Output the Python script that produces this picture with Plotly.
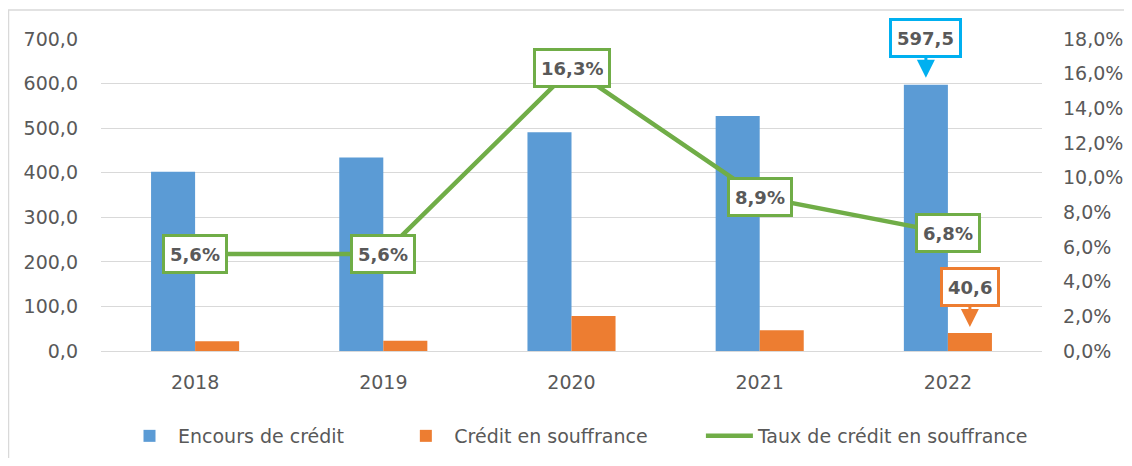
import plotly.graph_objects as go

years = ["2018", "2019", "2020", "2021", "2022"]
encours = [402.0, 434.0, 491.0, 527.0, 597.5]
souffrance = [21.8, 23.0, 78.5, 46.4, 40.6]
taux = [0.056, 0.056, 0.163, 0.089, 0.068]
taux_labels = ["5,6%", "5,6%", "16,3%", "8,9%", "6,8%"]
legend_names = ["Encours de crédit", "Crédit en souffrance", "Taux de crédit en souffrance"]

BLUE = "#5B9BD5"
ORANGE = "#ED7D31"
GREEN = "#70AD47"
CYAN = "#00B0F0"
GREY = "#595959"
FONT = "DejaVu Sans"
PAD = "\u00a0" * 8

fig = go.Figure()
fig.add_trace(go.Bar(x=years, y=encours, name=legend_names[0] + PAD, marker_color=BLUE,
                     marker_line_width=0))
fig.add_trace(go.Bar(x=years, y=souffrance, name=legend_names[1] + PAD, marker_color=ORANGE,
                     marker_line_width=0))
fig.add_trace(go.Scatter(x=years, y=taux, name=legend_names[2], yaxis="y2",
                         mode="lines", line=dict(color=GREEN, width=4.5)))

annotations = []
for i, (v, lab) in enumerate(zip(taux, taux_labels)):
    annotations.append(dict(x=i, y=v, xref="x", yref="y2", text="<b>" + lab + "</b>",
                            showarrow=False, bgcolor="white", bordercolor=GREEN, borderwidth=3,
                            borderpad=5, height=24, font=dict(family=FONT, size=18, color=GREY)))

last = len(years) - 1
annotations.append(dict(x=last, y=encours[-1], xref="x", yref="y", xshift=-22,
                        text="<b>597,5</b>", showarrow=True, arrowhead=2, arrowsize=1.2,
                        arrowwidth=3, arrowcolor=CYAN, ax=0, ay=-47, standoff=7,
                        bgcolor="white", bordercolor=CYAN, borderwidth=3, borderpad=5,
                        height=24, font=dict(family=FONT, size=18, color=GREY)))
annotations.append(dict(x=last, y=souffrance[-1], xref="x", yref="y", xshift=22,
                        text="<b>40,6</b>", showarrow=True, arrowhead=2, arrowsize=1.2,
                        arrowwidth=3, arrowcolor=ORANGE, ax=0, ay=-46, standoff=6,
                        bgcolor="white", bordercolor=ORANGE, borderwidth=3, borderpad=5,
                        height=24, font=dict(family=FONT, size=18, color=GREY)))

# the page body adds an 8px offset; size and margins compensate for it
W, H = 1116, 450
fig.update_layout(
    width=W, height=H,
    margin=dict(l=93, r=82, t=31, b=107, autoexpand=False),
    paper_bgcolor="white", plot_bgcolor="white",
    separators=", ",
    barmode="group", bargap=0.532, bargroupgap=0,
    font=dict(family=FONT, size=19, color=GREY),
    xaxis=dict(type="category", range=[-0.5, 4.5], showgrid=False, showline=False, ticks="",
               ticklabelstandoff=18, tickfont=dict(size=19, color=GREY)),
    yaxis=dict(range=[0, 700], dtick=100, tickformat=".1f", showgrid=True,
               gridcolor="#D9D9D9", gridwidth=1.3, zeroline=True, zerolinecolor="#D9D9D9",
               zerolinewidth=1.3, ticks="", ticklabelstandoff=22,
               tickfont=dict(size=19, color=GREY)),
    yaxis2=dict(range=[0, 0.18], dtick=0.02, tickformat=".1%", overlaying="y", side="right",
                showgrid=False, zeroline=False, ticks="", ticklabelstandoff=20,
                tickfont=dict(size=19, color=GREY)),
    legend=dict(orientation="h", xref="container", yref="container",
                x=113 / W, xanchor="left", y=1 - 428 / H, yanchor="middle",
                font=dict(size=19, color=GREY), itemwidth=47, traceorder="normal"),
    annotations=annotations,
    shapes=[dict(type="rect", xref="paper", yref="paper", x0=-0.0983, x1=1.3, y0=-0.6, y1=1.093,
                 line=dict(color="#D9D9D9", width=1.5), fillcolor="rgba(0,0,0,0)", layer="below")],
)

fig.write_html("out.html")
